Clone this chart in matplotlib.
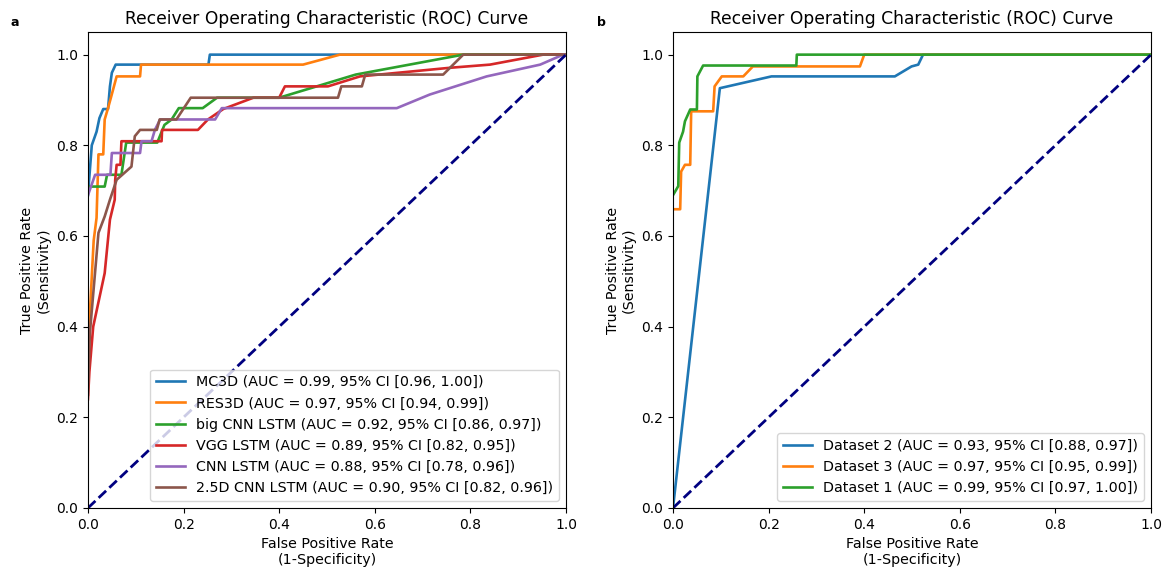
"""Two ROC panels: model comparison (a) and per-dataset results (b)."""

import matplotlib

matplotlib.use("Agg")
import matplotlib.pyplot as plt

# ---- panel a: models -------------------------------------------------------
mc3d_fpr = [0, 0.008, 0.018, 0.024, 0.032, 0.042, 0.046, 0.05, 0.058, 0.252, 0.255, 1.0]
mc3d_tpr = [0.69, 0.80, 0.83, 0.86, 0.88, 0.88, 0.93, 0.96, 0.978, 0.978, 1.0, 1.0]

res3d_fpr = [0, 0.005, 0.012, 0.018, 0.022, 0.032, 0.035, 0.042, 0.048, 0.06, 0.109, 0.111, 0.45, 0.527, 1.0]
res3d_tpr = [0.29, 0.45, 0.59, 0.64, 0.78, 0.78, 0.857, 0.882, 0.905, 0.952, 0.952, 0.978, 0.978, 1.0, 1.0]

bigcnn_fpr = [0, 0.035, 0.04, 0.07, 0.08, 0.145, 0.16, 0.175, 0.19, 0.24, 0.27, 0.40, 0.56, 0.785, 1.0]
bigcnn_tpr = [0.709, 0.709, 0.735, 0.735, 0.806, 0.806, 0.845, 0.857, 0.882, 0.882, 0.905, 0.905, 0.956, 1.0, 1.0]

vgg_fpr = [0, 0.003, 0.011, 0.035, 0.046, 0.056, 0.057, 0.06, 0.068, 0.07, 0.154, 0.155, 0.23,
           0.251, 0.283, 0.346, 0.40, 0.412, 0.502, 0.569, 0.757, 0.841, 0.952, 1.0]
vgg_tpr = [0.24, 0.30, 0.40, 0.518, 0.636, 0.68, 0.724, 0.757, 0.757, 0.809, 0.809, 0.834, 0.834,
           0.857, 0.88, 0.905, 0.905, 0.93, 0.93, 0.952, 0.971, 0.978, 1.0, 1.0]

cnn_fpr = [0, 0.015, 0.047, 0.05, 0.109, 0.112, 0.133, 0.14, 0.151, 0.266, 0.28, 0.646, 0.715,
           0.834, 0.946, 0.994, 1.0]
cnn_tpr = [0.69, 0.735, 0.735, 0.783, 0.783, 0.809, 0.809, 0.834, 0.857, 0.857, 0.882, 0.882, 0.912,
           0.952, 0.978, 1.0, 1.0]

cnn25_fpr = [0, 0.004, 0.022, 0.035, 0.046, 0.06, 0.091, 0.098, 0.109, 0.144, 0.15, 0.185, 0.215,
             0.523, 0.53, 0.573, 0.58, 0.743, 0.785, 1.0]
cnn25_tpr = [0.25, 0.386, 0.607, 0.643, 0.68, 0.724, 0.753, 0.82, 0.834, 0.834, 0.857, 0.857, 0.905,
             0.905, 0.93, 0.93, 0.956, 0.956, 1.0, 1.0]

model_labels = [
    "MC3D (AUC = 0.99, 95% CI [0.96, 1.00])",
    "RES3D (AUC = 0.97, 95% CI [0.94, 0.99])",
    "big CNN LSTM (AUC = 0.92, 95% CI [0.86, 0.97])",
    "VGG LSTM (AUC = 0.89, 95% CI [0.82, 0.95])",
    "CNN LSTM (AUC = 0.88, 95% CI [0.78, 0.96])",
    "2.5D CNN LSTM (AUC = 0.90, 95% CI [0.82, 0.96])",
]

# ---- panel b: datasets -----------------------------------------------------
ds2_fpr = [0, 0.098, 0.206, 0.464, 0.499, 0.513, 0.523, 1.0]
ds2_tpr = [0, 0.926, 0.952, 0.952, 0.974, 0.978, 1.0, 1.0]

ds3_fpr = [0, 0.015, 0.017, 0.025, 0.036, 0.038, 0.084, 0.087, 0.102, 0.147, 0.167, 0.391, 0.40, 1.0]
ds3_tpr = [0.659, 0.659, 0.742, 0.757, 0.757, 0.875, 0.875, 0.93, 0.952, 0.952, 0.974, 0.974, 1.0, 1.0]

ds1_fpr = [0, 0.011, 0.013, 0.021, 0.025, 0.036, 0.05, 0.051, 0.063, 0.258, 0.259, 1.0]
ds1_tpr = [0.69, 0.71, 0.806, 0.83, 0.853, 0.879, 0.879, 0.952, 0.976, 0.976, 1.0, 1.0]

dataset_labels = [
    "Dataset 2 (AUC = 0.93, 95% CI [0.88, 0.97])",
    "Dataset 3 (AUC = 0.97, 95% CI [0.95, 0.99])",
    "Dataset 1 (AUC = 0.99, 95% CI [0.97, 1.00])",
]

TITLE = "Receiver Operating Characteristic (ROC) Curve"

fig = plt.figure(figsize=(11.68, 5.70), dpi=100)
ax_a = fig.add_axes([0.0753, 0.1088, 0.4093, 0.8351])
ax_b = fig.add_axes([0.5762, 0.1088, 0.4093, 0.8351])

model_curves = [(mc3d_fpr, mc3d_tpr), (res3d_fpr, res3d_tpr), (bigcnn_fpr, bigcnn_tpr),
                (vgg_fpr, vgg_tpr), (cnn_fpr, cnn_tpr), (cnn25_fpr, cnn25_tpr)]
for (f, t), lab in zip(model_curves, model_labels):
    ax_a.plot(f, t, lw=1.9, label=lab)

dataset_curves = [(ds2_fpr, ds2_tpr), (ds3_fpr, ds3_tpr), (ds1_fpr, ds1_tpr)]
for (f, t), lab in zip(dataset_curves, dataset_labels):
    ax_b.plot(f, t, lw=1.9, label=lab)

for ax in (ax_a, ax_b):
    ax.plot([0, 1], [0, 1], color="navy", lw=2, ls="--")
    ax.set_xlim(0.0, 1.0)
    ax.set_ylim(0.0, 1.05)
    ax.set_xlabel("False Positive Rate\n(1-Specificity)", fontsize=10.3)
    ax.set_ylabel("True Positive Rate\n(Sensitivity)", fontsize=10.3)
    ax.set_title(TITLE, fontsize=12.3)
    ax.tick_params(labelsize=10)
    ax.legend(loc="lower right", fontsize=10.3)

fig.text(0.009, 0.955, "a", fontsize=9, fontweight="bold")
fig.text(0.511, 0.955, "b", fontsize=9, fontweight="bold")

fig.savefig("out.png", dpi=100)
plt.close(fig)
